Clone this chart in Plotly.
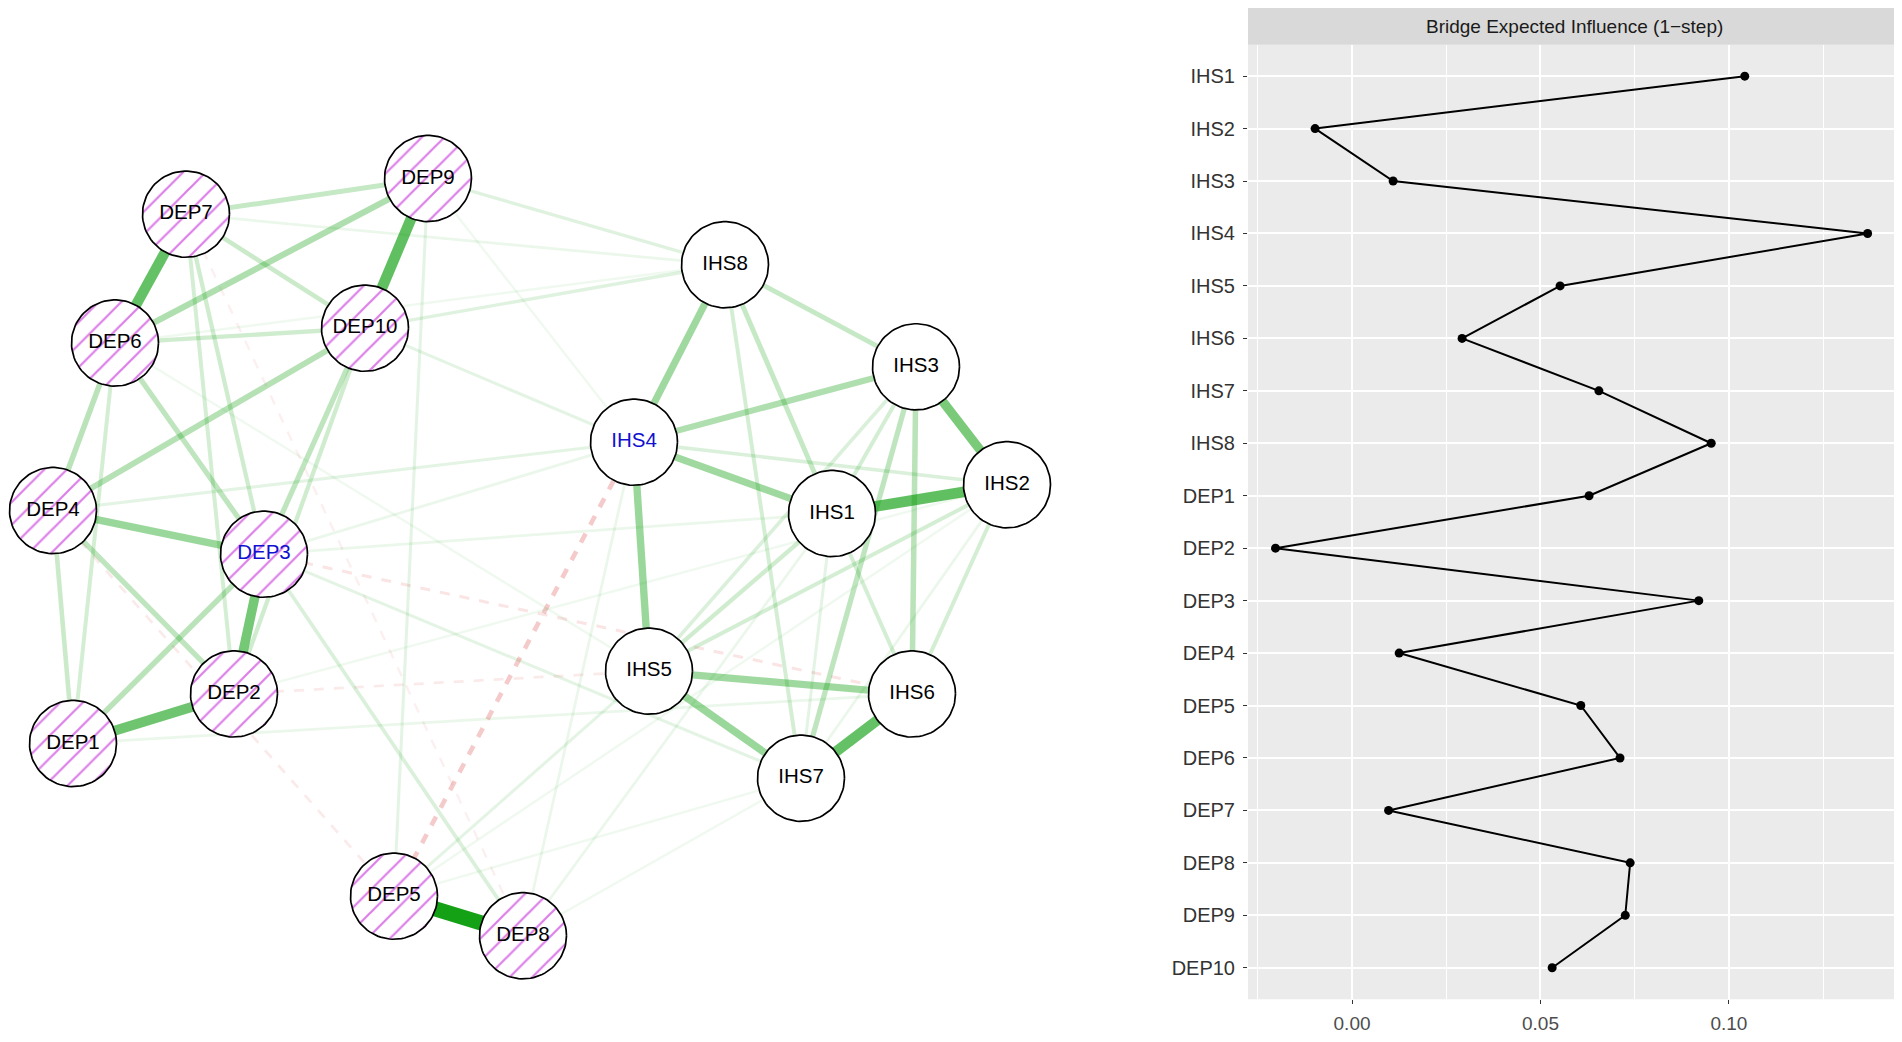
import numpy as np
import plotly.graph_objects as go

# ---- network: node layout (as drawn) ----
node_names = ["DEP1", "DEP2", "DEP3", "DEP4", "DEP5", "DEP6", "DEP7", "DEP8", "DEP9", "DEP10",
              "IHS1", "IHS2", "IHS3", "IHS4", "IHS5", "IHS6", "IHS7", "IHS8"]
layout_x = [73, 234, 264, 53, 394, 115, 186, 523, 428, 365,
            832, 1007, 916, 634, 649, 912, 801, 725]
layout_y = [750, 700, 559, 515, 904, 346, 216, 944, 180, 331,
            518, 489, 370, 446, 677, 700, 785, 267]
bridge_nodes = ["DEP3", "IHS4"]

# ---- network: edges (partial correlations, estimated) ----
edge_from = ["DEP5", "DEP6", "DEP9", "DEP1", "DEP2", "IHS1", "IHS6", "IHS2", "DEP3", "IHS4",
             "IHS5", "IHS5", "IHS4", "IHS1", "IHS3", "DEP6", "DEP4", "DEP4", "DEP3", "DEP2",
             "DEP1", "DEP3", "DEP2", "DEP7", "DEP7", "DEP6", "DEP3", "DEP2", "DEP1", "DEP1",
             "DEP3", "IHS3", "IHS3", "IHS3", "IHS1", "IHS7", "IHS1", "IHS3", "IHS2", "IHS2",
             "IHS2", "IHS1", "IHS1", "IHS1", "IHS2",
             "DEP9", "DEP10", "DEP7", "DEP4", "DEP3", "DEP10", "DEP9", "DEP9", "DEP8", "DEP5",
             "DEP8", "DEP5", "DEP1", "DEP2", "DEP3", "DEP3", "DEP6", "DEP8", "DEP5", "DEP6",
             "DEP5", "DEP3", "DEP2", "DEP4", "DEP7"]
edge_to = ["DEP8", "DEP7", "DEP10", "DEP2", "DEP3", "IHS2", "IHS7", "IHS3", "DEP4", "IHS5",
           "IHS6", "IHS7", "IHS8", "IHS4", "IHS4", "DEP9", "DEP10", "DEP6", "DEP6", "DEP4",
           "DEP3", "DEP10", "DEP10", "DEP9", "DEP10", "DEP10", "DEP7", "DEP7", "DEP4", "DEP6",
           "DEP8", "IHS6", "IHS7", "IHS8", "IHS8", "IHS8", "IHS3", "IHS5", "IHS5", "IHS6",
           "IHS4", "IHS5", "IHS6", "IHS7", "IHS7",
           "IHS8", "IHS8", "IHS8", "IHS4", "IHS4", "IHS4", "IHS4", "DEP5", "IHS4", "IHS5",
           "IHS1", "IHS2", "IHS6", "IHS2", "IHS1", "IHS7", "IHS5", "IHS7", "IHS7", "IHS8",
           "IHS4", "IHS6", "IHS5", "DEP5", "DEP8"]
edge_weight = [0.44, 0.29, 0.30, 0.27, 0.26, 0.30, 0.29, 0.25, 0.19, 0.19,
               0.18, 0.19, 0.18, 0.18, 0.15, 0.15, 0.14, 0.13, 0.12, 0.12,
               0.13, 0.12, 0.09, 0.11, 0.10, 0.09, 0.09, 0.08, 0.10, 0.08,
               0.07, 0.13, 0.12, 0.11, 0.11, 0.08, 0.08, 0.07, 0.08, 0.08,
               0.07, 0.09, 0.08, 0.05, 0.04,
               0.06, 0.06, 0.04, 0.05, 0.04, 0.05, 0.03, 0.05, 0.04, 0.05,
               0.04, 0.03, 0.04, 0.03, 0.04, 0.05, 0.03, 0.03, 0.03, 0.03,
               -0.10, -0.05, -0.04, -0.04, -0.03]

# ---- bridge expected influence (1-step) ----
bei_nodes = ["IHS1", "IHS2", "IHS3", "IHS4", "IHS5", "IHS6", "IHS7", "IHS8",
             "DEP1", "DEP2", "DEP3", "DEP4", "DEP5", "DEP6", "DEP7", "DEP8", "DEP9", "DEP10"]
bei_values = [0.1042, -0.0098, 0.0109, 0.1368, 0.0552, 0.0292, 0.0655, 0.0953,
              0.0629, -0.0203, 0.0920, 0.0125, 0.0607, 0.0711, 0.0097, 0.0738, 0.0725, 0.0531]

# page body keeps its default 8px margin, so the figure is drawn 8px in
OFF = 8
W, H = 1902 - 2 * OFF, 1042 - 2 * OFF
NET_W = 1170
R_NODE = 43.5
FONT = "Liberation Sans, Arial, Helvetica, sans-serif"

pos = {n: (x, y) for n, x, y in zip(node_names, layout_x, layout_y)}
wmax = 0.48

fig = go.Figure()

# edges, weakest first so strong ones sit on top
order = np.argsort(np.abs(edge_weight))
for i in order:
    a, b, w = edge_from[i], edge_to[i], edge_weight[i]
    alpha = min(1.0, abs(w) / wmax)
    if w > 0:
        col = f"rgba(0,153,0,{alpha:.3f})"
        dash = "solid"
    else:
        col = f"rgba(204,0,0,{alpha:.3f})"
        dash = "10px,10px"
    fig.add_trace(go.Scatter(
        x=[pos[a][0], pos[b][0]], y=[pos[a][1], pos[b][1]],
        mode="lines", line=dict(color=col, width=1.5 + 31 * abs(w), dash=dash),
        hoverinfo="skip", showlegend=False, xaxis="x", yaxis="y"))

# node circles
theta = np.linspace(0, 2 * np.pi, 91)


def circles(names):
    xs, ys = [], []
    for n in names:
        cx, cy = pos[n]
        xs += list(cx + R_NODE * np.cos(theta)) + [None]
        ys += list(cy + R_NODE * np.sin(theta)) + [None]
    return xs, ys


dep = [n for n in node_names if n.startswith("DEP")]
ihs = [n for n in node_names if n.startswith("IHS")]

xs, ys = circles(ihs)
fig.add_trace(go.Scatter(x=xs, y=ys, mode="lines", fill="toself", fillcolor="white",
                         line=dict(color="black", width=1.7), hoverinfo="skip",
                         showlegend=False, xaxis="x", yaxis="y"))
xs, ys = circles(dep)
fig.add_trace(go.Scatter(x=xs, y=ys, mode="lines", fill="toself", fillcolor="white",
                         fillpattern=dict(shape="/", fgcolor="#b800d0", bgcolor="white",
                                          size=16, solidity=0.14),
                         line=dict(color="black", width=1.7), hoverinfo="skip",
                         showlegend=False, xaxis="x", yaxis="y"))

# node labels
fig.add_trace(go.Scatter(
    x=layout_x, y=layout_y, mode="text", text=node_names,
    textfont=dict(family=FONT, size=20.5,
                  color=["#1010d0" if n in bridge_nodes else "black" for n in node_names]),
    hoverinfo="skip", showlegend=False, xaxis="x", yaxis="y"))

# bridge EI line plot
fig.add_trace(go.Scatter(
    x=bei_values, y=bei_nodes, mode="lines+markers",
    line=dict(color="black", width=2), marker=dict(color="black", size=9),
    hoverinfo="skip", showlegend=False, xaxis="x2", yaxis="y2"))


def fx(px):
    return min(1.0, (px - OFF) / W)


def fy(py):
    return 1 - (py - OFF) / H


px0, px1 = fx(1248), fx(1899)
py_top, py_bot = fy(45), fy(1008)

fig.update_layout(
    width=W, height=H, margin=dict(l=0, r=0, t=0, b=0),
    paper_bgcolor="white", plot_bgcolor="white",
    xaxis=dict(domain=[0, NET_W / W], range=[OFF, OFF + NET_W], visible=False, fixedrange=True),
    yaxis=dict(domain=[0, 1], range=[OFF + H, OFF], visible=False, fixedrange=True),
    xaxis2=dict(domain=[px0, px1], anchor="y2", range=[-0.0276, 0.1438],
                tick0=0, dtick=0.05, tickformat=".2f", zeroline=False,
                showgrid=True, gridcolor="white", gridwidth=2.4,
                minor=dict(dtick=0.025, tick0=0, showgrid=True, gridcolor="white",
                           gridwidth=1.2, ticks=""),
                ticks="outside", ticklen=4, tickwidth=1.2, tickcolor="#333333",
                ticklabelstandoff=3,
                tickfont=dict(family=FONT, size=19, color="#4d4d4d"), showline=False),
    yaxis2=dict(domain=[py_bot, py_top], anchor="x2", type="category",
                categoryorder="array", categoryarray=bei_nodes, range=[17.6, -0.6],
                showgrid=True, gridcolor="white", gridwidth=2.4, zeroline=False,
                ticks="outside", ticklen=4, tickwidth=1.2, tickcolor="#333333",
                ticklabelstandoff=4,
                tickfont=dict(family=FONT, size=20, color="#333333"), showline=False),
    shapes=[
        dict(type="rect", xref="x2 domain", yref="y2 domain", x0=0, x1=1, y0=0, y1=1,
             fillcolor="#ebebeb", line=dict(width=0), layer="below"),
        dict(type="rect", xref="paper", yref="paper", x0=px0, x1=px1,
             y0=py_top, y1=fy(8), fillcolor="#d9d9d9", line=dict(width=0), layer="below"),
    ],
    annotations=[
        dict(text="Bridge Expected Influence (1\u2212step)", xref="paper", yref="paper",
             x=fx(1574), y=fy(26.5), showarrow=False,
             font=dict(family=FONT, size=19, color="#1a1a1a"), xanchor="center", yanchor="middle"),
    ],
)

fig.write_html("out.html")
